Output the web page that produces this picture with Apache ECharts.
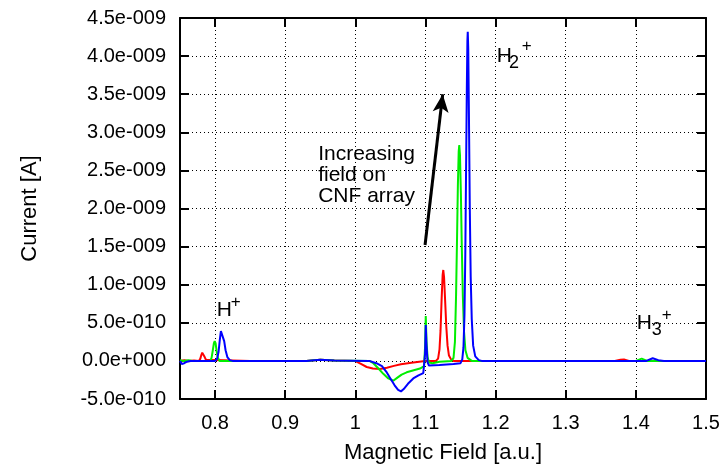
<!DOCTYPE html>
<html><head><meta charset="utf-8">
<script src="https://cdn.jsdelivr.net/npm/echarts@6/dist/echarts.min.js"></script>
<style>html,body{margin:0;padding:0;background:#fff}#c{width:726px;height:470px}</style>
</head><body><div id="c"></div>
<script>
// ---- data (x: magnetic field [a.u.], y: current [A]) ----
const xTickValues = [0.8, 0.9, 1.0, 1.1, 1.2, 1.3, 1.4, 1.5];
const xTickLabels = ['0.8', '0.9', '1', '1.1', '1.2', '1.3', '1.4', '1.5'];
const yTickLabels = ['-5.0e-010', '0.0e+000', '5.0e-010', '1.0e-009', '1.5e-009', '2.0e-009',
  '2.5e-009', '3.0e-009', '3.5e-009', '4.0e-009', '4.5e-009'];
const seriesNames = ['Field 1', 'Field 2', 'Field 3'];

const redData = [
  [0.750, 0.00e-9], [0.756, 0.01e-9], [0.762, 0.00e-9], [0.770, 0.005e-9], [0.7770, 0.00e-9],
  [0.7790, 0.03e-9], [0.7805, 0.08e-9], [0.7817, 0.108e-9], [0.7826, 0.113e-9], [0.7838, 0.095e-9],
  [0.7852, 0.05e-9], [0.7870, 0.015e-9], [0.7890, 0.00e-9], [0.85, 0.00e-9], [0.93, 0.00e-9],
  [0.95, 0.015e-9], [0.97, 0.005e-9], [0.9995, 0.00e-9], [1.0080, -0.04e-9], [1.0162, -0.08e-9],
  [1.0250, -0.10e-9], [1.0352, -0.105e-9], [1.0450, -0.09e-9], [1.0550, -0.065e-9], [1.0650, -0.045e-9],
  [1.0800, -0.025e-9], [1.0994, 0.00e-9], [1.1150, 0.00e-9], [1.1180, 0.03e-9], [1.1200, 0.15e-9],
  [1.1215, 0.4e-9], [1.1230, 0.8e-9], [1.1245, 1.13e-9], [1.1254, 1.193e-9], [1.1265, 1.1e-9],
  [1.1280, 0.8e-9], [1.1297, 0.45e-9], [1.1315, 0.2e-9], [1.1335, 0.07e-9], [1.1365, 0.02e-9],
  [1.1400, 0.00e-9], [1.37, 0.00e-9], [1.378, 0.015e-9], [1.383, 0.02e-9], [1.39, 0.00e-9], [1.50, 0.00e-9]
];
const greenData = [
  [0.750, 0.01e-9], [0.755, 0.00e-9], [0.762, 0.01e-9], [0.768, 0.00e-9], [0.7930, 0.00e-9],
  [0.7950, 0.04e-9], [0.7968, 0.14e-9], [0.7983, 0.23e-9], [0.7995, 0.261e-9], [0.8008, 0.23e-9],
  [0.8022, 0.13e-9], [0.8040, 0.04e-9], [0.8065, 0.00e-9], [0.93, 0.00e-9], [0.95, 0.015e-9],
  [0.97, 0.005e-9], [1.020, 0.00e-9], [1.0257, -0.03e-9], [1.0330, -0.10e-9], [1.0399, -0.17e-9],
  [1.0470, -0.23e-9], [1.0541, -0.26e-9], [1.0600, -0.22e-9], [1.0660, -0.18e-9], [1.0732, -0.15e-9],
  [1.0820, -0.125e-9], [1.0922, -0.10e-9], [1.0980, -0.07e-9], [1.0995, 0.2e-9], [1.1004, 0.589e-9],
  [1.1015, 0.25e-9], [1.1030, 0.05e-9], [1.1050, -0.02e-9], [1.1100, -0.03e-9], [1.1200, -0.01e-9],
  [1.1370, 0.00e-9], [1.1400, 0.04e-9], [1.1420, 0.25e-9], [1.1436, 0.85e-9], [1.1450, 1.6e-9],
  [1.1462, 2.3e-9], [1.1474, 2.75e-9], [1.1482, 2.833e-9], [1.1492, 2.7e-9], [1.1505, 2.2e-9],
  [1.1518, 1.5e-9], [1.1533, 0.85e-9], [1.1550, 0.38e-9], [1.1570, 0.14e-9], [1.1600, 0.04e-9],
  [1.1660, 0.00e-9], [1.40, 0.00e-9], [1.4083, 0.03e-9], [1.416, 0.00e-9], [1.50, 0.00e-9]
];
const blueData = [
  [0.750, 0.00e-9], [0.7525, -0.04e-9], [0.756, -0.03e-9], [0.760, -0.01e-9], [0.765, 0.00e-9],
  [0.8000, 0.00e-9], [0.8030, 0.03e-9], [0.8050, 0.12e-9], [0.8068, 0.28e-9], [0.8083, 0.39e-9],
  [0.8095, 0.415e-9], [0.8110, 0.38e-9], [0.8130, 0.26e-9], [0.8150, 0.14e-9], [0.8175, 0.05e-9],
  [0.8210, 0.01e-9], [0.825, 0.00e-9], [0.93, 0.00e-9], [0.95, 0.015e-9], [0.97, 0.005e-9],
  [1.020, 0.00e-9], [1.0300, -0.03e-9], [1.0380, -0.07e-9], [1.0440, -0.14e-9], [1.0500, -0.23e-9],
  [1.0560, -0.32e-9], [1.0610, -0.38e-9], [1.0651, -0.40e-9], [1.0690, -0.37e-9], [1.0750, -0.30e-9],
  [1.0826, -0.23e-9], [1.0900, -0.19e-9], [1.0969, -0.16e-9], [1.0980, -0.15e-9], [1.0995, 0.1e-9],
  [1.1004, 0.471e-9], [1.1015, 0.2e-9], [1.1030, -0.02e-9], [1.1050, -0.06e-9], [1.1200, -0.055e-9],
  [1.1400, -0.04e-9], [1.1500, -0.03e-9], [1.1525, 0.02e-9], [1.1542, 0.18e-9], [1.1556, 0.6e-9],
  [1.1568, 1.4e-9], [1.1578, 2.4e-9], [1.1590, 3.6e-9], [1.1598, 4.2e-9], [1.1603, 4.32e-9],
  [1.1610, 4.1e-9], [1.1620, 3.2e-9], [1.1632, 2.0e-9], [1.1645, 1.1e-9], [1.1660, 0.55e-9],
  [1.1680, 0.2e-9], [1.1710, 0.06e-9], [1.1760, 0.01e-9], [1.1802, 0.00e-9], [1.415, 0.00e-9],
  [1.424, 0.035e-9], [1.432, 0.01e-9], [1.44, 0.00e-9], [1.50, 0.00e-9]
];
const seriesColors = ['#ff0000', '#00ee00', '#0000ff'];

// annotation anchors (data coordinates)
const arrowStart = [1.0994, 1.521e-9];
const arrowEnd = [1.1246, 3.499e-9];
const noteLines = ['Increasing', 'field on', 'CNF array'];
const noteAnchors = [[0.947, 2.71e-9], [0.947, 2.435e-9], [0.947, 2.16e-9]];
const ionLabels = [
  { main: 'H', sub: '', sup: '+', at: [0.8023, 0.668e-9], subAt: null, supAt: [0.8294, 0.769e-9] },
  { main: 'H', sub: '2', sup: '+', at: [1.2016, 4.004e-9], subAt: [1.2191, 3.906e-9], supAt: [1.2444, 4.123e-9] },
  { main: 'H', sub: '3', sup: '+', at: [1.4012, 0.493e-9], subAt: [1.4226, 0.406e-9], supAt: [1.444, 0.602e-9] }
];

const yMin = -5e-10, yMax = 4.5e-9, yStep = 5e-10;
const FONT = '"Liberation Sans", Arial, Helvetica, sans-serif';

const chart = echarts.init(document.getElementById('c'), null, { renderer: 'canvas' });
const axisLine = { show: true, onZero: false, lineStyle: { color: '#000', width: 2 } };
const tickStyle = { color: '#000', width: 2 };

function xLabel(v) {
  let i = xTickValues.findIndex(t => Math.abs(t - v) < 1e-6);
  return i >= 0 ? xTickLabels[i] : '';
}
function yLabel(v) {
  return yTickLabels[Math.round((v - yMin) / yStep)] || '';
}

const dataSets = [redData, greenData, blueData];
const series = dataSets.map((d, i) => ({
  name: seriesNames[i], type: 'line', data: d, showSymbol: false, symbol: 'none',
  lineStyle: { color: seriesColors[i], width: 2 }, itemStyle: { color: seriesColors[i] },
  silent: true, z: 2 + i, clip: true
}));
series[2].markLine = {
  silent: true, symbol: ['none', 'arrow'], symbolSize: [12, 18],
  label: { show: false }, emphasis: { disabled: true },
  lineStyle: { color: '#000', width: 3, type: 'solid' },
  data: [[{ coord: arrowStart, symbol: 'none' }, { coord: arrowEnd, symbol: 'arrow' }]]
};

chart.setOption({
  animation: false,
  backgroundColor: '#fff',
  grid: { left: 180, right: 20, top: 18, bottom: 71, containLabel: false, outerBoundsMode: 'none' },
  xAxis: [{
    type: 'value', min: 0.75, max: 1.5, position: 'bottom',
    name: 'Magnetic Field [a.u.]', nameLocation: 'middle', nameGap: 43,
    nameTextStyle: { fontFamily: FONT, fontSize: 22, color: '#000' },
    axisLine: axisLine,
    axisTick: { show: true, inside: true, length: 9, customValues: xTickValues, lineStyle: tickStyle },
    axisLabel: { show: true, customValues: xTickValues, formatter: xLabel, fontFamily: FONT, fontSize: 20, color: '#000', margin: 14 },
    splitLine: { show: true, lineStyle: { color: '#000', width: 1, type: [1, 3] } }
  }, {
    type: 'value', min: 0.75, max: 1.5, position: 'top',
    axisLine: axisLine,
    axisTick: { show: true, inside: true, length: 9, customValues: xTickValues, lineStyle: tickStyle },
    axisLabel: { show: false }, splitLine: { show: false }
  }],
  yAxis: [{
    type: 'value', min: yMin, max: yMax, interval: yStep, position: 'left',
    name: 'Current [A]', nameLocation: 'middle', nameGap: 139,
    nameTextStyle: { fontFamily: FONT, fontSize: 22, color: '#000' },
    axisLine: axisLine,
    axisTick: { show: true, inside: true, length: 9, lineStyle: tickStyle },
    axisLabel: { show: true, formatter: yLabel, fontFamily: FONT, fontSize: 20, color: '#000', margin: 14 },
    splitLine: { show: true, lineStyle: { color: '#000', width: 1, type: [1, 3] } }
  }, {
    type: 'value', min: yMin, max: yMax, interval: yStep, position: 'right',
    axisLine: axisLine,
    axisTick: { show: true, inside: true, length: 9, lineStyle: tickStyle },
    axisLabel: { show: false }, splitLine: { show: false }
  }],
  series: series
});

function px(p) { return chart.convertToPixel({ gridIndex: 0 }, p); }
const graphics = [];
noteLines.forEach((t, i) => {
  const p = px(noteAnchors[i]);
  graphics.push({ type: 'text', x: p[0], y: p[1], silent: true, z: 10,
    style: { text: t, font: '21px ' + FONT, fill: '#000', textAlign: 'left', textVerticalAlign: 'middle' } });
});
ionLabels.forEach(l => {
  const p = px(l.at);
  graphics.push({ type: 'text', x: p[0], y: p[1], silent: true, z: 10,
    style: { text: l.main, font: '21px ' + FONT, fill: '#000', textAlign: 'left', textVerticalAlign: 'middle' } });
  if (l.subAt) {
    const q = px(l.subAt);
    graphics.push({ type: 'text', x: q[0], y: q[1], silent: true, z: 10,
      style: { text: l.sub, font: '18px ' + FONT, fill: '#000', textAlign: 'left', textVerticalAlign: 'middle' } });
  }
  const s = px(l.supAt);
  graphics.push({ type: 'text', x: s[0], y: s[1], silent: true, z: 10,
    style: { text: l.sup, font: '17px ' + FONT, fill: '#000', textAlign: 'center', textVerticalAlign: 'middle' } });
});
chart.setOption({ graphic: graphics });
</script>
</body></html>
